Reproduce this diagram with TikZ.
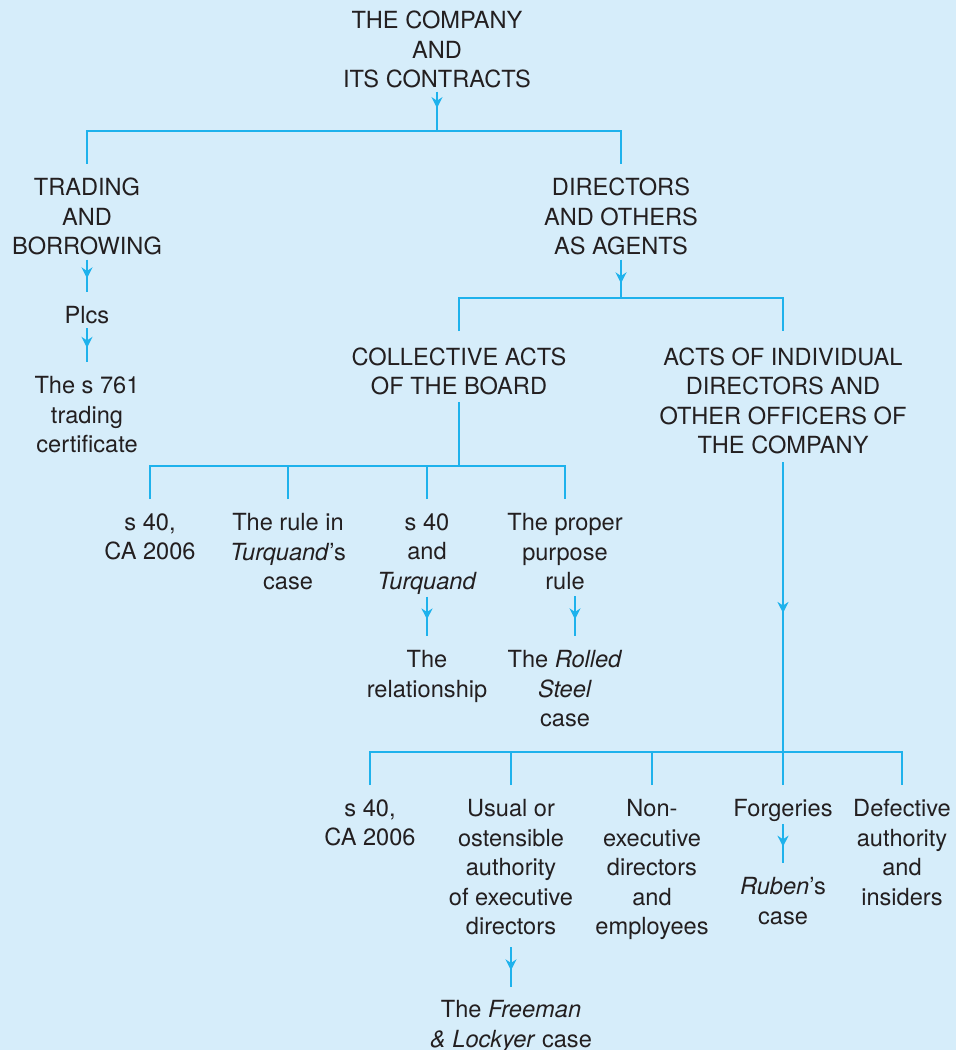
\documentclass[tikz,border=0pt]{standalone}
\usepackage{fontspec}
\setmainfont{TeX Gyre Heros}
\usetikzlibrary{arrows.meta,decorations.markings}

\definecolor{paper}{RGB}{214,237,250}
\definecolor{wire}{RGB}{30,178,236}
\definecolor{ink}{RGB}{35,31,32}

\tikzstyle{topic} = [anchor=north, inner sep=0pt, align=center, text=ink, font=\fontsize{11.8}{14.75}\selectfont]
\tikzstyle{line} = [draw, color=wire, line width=1pt]
\tikzset{flow/.style={line, postaction={decorate}, decoration={markings, mark=at position #1 with {\arrow{Stealth[length=5.5pt,width=5.5pt,inset=1.8pt]}}}}, flow/.default=0.58}

\begin{document}
\begin{tikzpicture}[x=0.5pt, y=-0.5pt]

	\path[use as bounding box, fill=paper] (0,0) rectangle (956,1050);

	% top levels
	\node (company) [topic] at (437,10.7) {THE COMPANY\\AND\\ITS CONTRACTS};
	\node (trading) [topic] at (87,177.7) {TRADING\\AND\\BORROWING};
	\node (directors) [topic] at (621,177.7) {DIRECTORS\\AND OTHERS\\AS AGENTS};
	\node (plcs) [topic] at (87,306) {Plcs};
	\node (cert) [topic] at (87,376) {The s 761\\trading\\certificate};
	\node (board) [topic] at (459,347) {COLLECTIVE ACTS\\OF THE BOARD};
	\node (indiv) [topic] at (783,347) {ACTS OF INDIVIDUAL\\DIRECTORS AND\\OTHER OFFICERS OF\\THE COMPANY};

	% acts of the board
	\node (bs40) [topic] at (150,513) {s 40,\\CA 2006};
	\node (rule) [topic] at (288,513) {The rule in\\\textit{Turquand}’s\\case};
	\node (both) [topic] at (427,513) {s 40\\and\\\textit{Turquand}};
	\node (proper) [topic] at (565,513) {The proper\\purpose\\rule};
	\node (relation) [topic] at (427,650) {The\\relationship};
	\node (rolled) [topic] at (565,650) {The \textit{Rolled}\\\textit{Steel}\\case};

	% acts of individuals
	\node (is40) [topic] at (370,799) {s 40,\\CA 2006};
	\node (usual) [topic] at (511,799) {Usual or\\ostensible\\authority\\of executive\\directors};
	\node (nonexec) [topic] at (652,799) {Non-\\executive\\directors\\and\\employees};
	\node (forge) [topic] at (783,799) {Forgeries};
	\node (defect) [topic] at (902,799) {Defective\\authority\\and\\insiders};
	\node (ruben) [topic] at (783,877) {\textit{Ruben}’s\\case};
	\node (freeman) [topic] at (511,1000) {The \textit{Freeman}\\\textit{\&~Lockyer} case};

	% junctions
	\coordinate (j1) at (437,131);
	\coordinate (j2) at (621,298);
	\coordinate (j3) at (459,466);
	\coordinate (j4) at (783,752);

	\draw [flow=0.42] ([yshift=-1.5pt]company.south) -- (j1);
	\draw [line] ([yshift=7pt]trading.north) |- (j1) -| ([yshift=7pt]directors.north);
	\draw [flow] ([yshift=-2pt]trading.south) -- ([yshift=7pt]plcs.north);
	\draw [flow] ([yshift=-2pt]plcs.south) -- ([yshift=7pt]cert.north);

	\draw [flow=0.62] ([yshift=-2pt]directors.south) -- (j2);
	\draw [line] ([yshift=8pt]board.north) |- (j2) -| ([yshift=8pt]indiv.north);

	\draw [line] ([yshift=-3.5pt]board.south) -- (j3);
	\draw [line] ([yshift=7pt]bs40.north) |- (j3) -| ([yshift=7pt]proper.north);
	\draw [line] ([yshift=7pt]rule.north) -- (rule.north |- j3);
	\draw [line] ([yshift=7pt]both.north) -- (both.north |- j3);
	\draw [flow] ([yshift=-1pt]both.south) -- ([yshift=7pt]relation.north);
	\draw [flow] ([xshift=5pt,yshift=-3pt]proper.south) -- ([xshift=5pt,yshift=7pt]rolled.north);

	\draw [flow=0.52] ([yshift=-4pt]indiv.south) -- (j4);
	\draw [line] ([yshift=7pt]is40.north) |- (j4) -| ([yshift=7pt]defect.north);
	\draw [line] ([yshift=7pt]usual.north) -- (usual.north |- j4);
	\draw [line] ([yshift=7pt]nonexec.north) -- (nonexec.north |- j4);
	\draw [line] ([yshift=7pt]forge.north) -- (j4);
	\draw [flow] ([yshift=-1pt]forge.south) -- ([yshift=7pt]ruben.north);
	\draw [flow] ([yshift=-6pt]usual.south) -- ([yshift=6.5pt]freeman.north);

\end{tikzpicture}
\end{document}
